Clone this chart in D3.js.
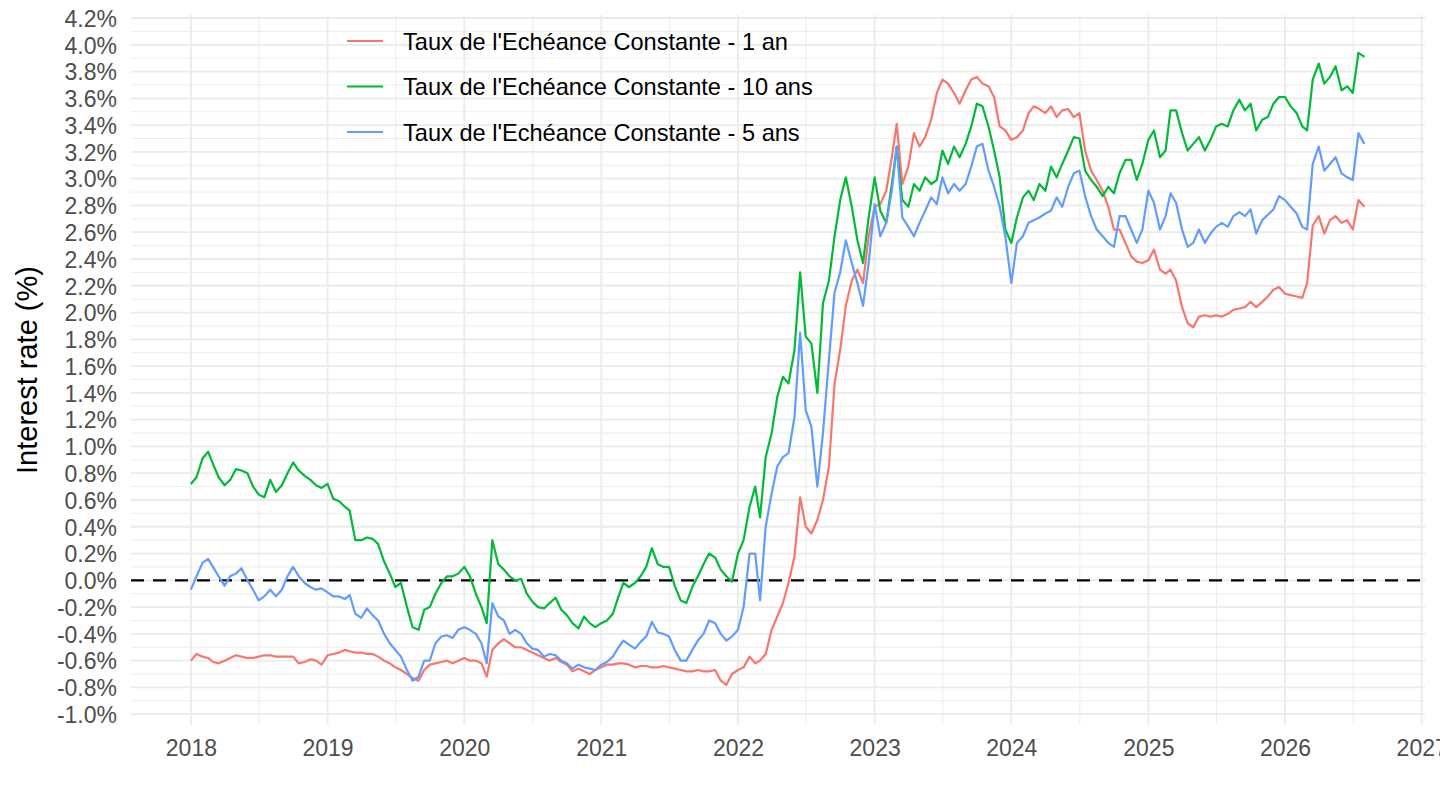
<!DOCTYPE html>
<html>
<head>
<meta charset="utf-8">
<script src="https://cdn.jsdelivr.net/npm/d3@7"></script>
<style>
  html, body { margin: 0; padding: 0; background: #fff; }
  svg { display: block; font-family: "Liberation Sans", Arial, sans-serif; }
</style>
</head>
<body>
<div id="graph"></div>
<script>

// half-monthly observations, 1st and 16th of each month, Jan 2018 -> Aug 2026
var startYear = 2018;
var nObs = 207;

var seriesNames = [
  "Taux de l'Echéance Constante - 1 an",
  "Taux de l'Echéance Constante - 10 ans",
  "Taux de l'Echéance Constante - 5 ans"
];
var seriesColors = ["#F8766D", "#00BA38", "#619CFF"];

var oneYear = [
  -0.60, -0.55, -0.57, -0.58, -0.61, -0.62, -0.60, -0.58, -0.56, -0.57, -0.58, -0.58, -0.57, -0.56, -0.56, -0.57, -0.57, -0.57, -0.57, -0.62, -0.61, -0.59, -0.60, -0.63,
  -0.56, -0.55, -0.54, -0.52, -0.53, -0.54, -0.54, -0.55, -0.55, -0.57, -0.60, -0.62, -0.65, -0.67, -0.70, -0.73, -0.75, -0.67, -0.63, -0.62, -0.61, -0.60, -0.62, -0.60,
  -0.58, -0.60, -0.60, -0.62, -0.72, -0.52, -0.47, -0.44, -0.47, -0.50, -0.50, -0.52, -0.54, -0.56, -0.58, -0.60, -0.58, -0.61, -0.63, -0.68, -0.66, -0.68, -0.70, -0.67,
  -0.65, -0.63, -0.63, -0.62, -0.62, -0.63, -0.65, -0.64, -0.64, -0.65, -0.65, -0.64, -0.65, -0.66, -0.67, -0.68, -0.68, -0.67, -0.68, -0.68, -0.67, -0.75, -0.78, -0.70,
  -0.67, -0.65, -0.57, -0.62, -0.60, -0.55, -0.37, -0.27, -0.17, -0.02, 0.18, 0.62, 0.40, 0.35, 0.45, 0.60, 0.85, 1.47, 1.72, 2.05, 2.24, 2.32, 2.22, 2.57,
  2.79, 2.81, 2.91, 3.16, 3.41, 2.96, 3.09, 3.34, 3.24, 3.31, 3.44, 3.64, 3.74, 3.71, 3.64, 3.56, 3.66, 3.74, 3.76, 3.71, 3.69, 3.61, 3.39, 3.36,
  3.29, 3.31, 3.36, 3.49, 3.54, 3.52, 3.49, 3.54, 3.46, 3.51, 3.52, 3.46, 3.49, 3.21, 3.06, 2.99, 2.91, 2.79, 2.62, 2.62, 2.52, 2.42, 2.38, 2.37,
  2.39, 2.47, 2.32, 2.29, 2.32, 2.24, 2.04, 1.92, 1.89, 1.97, 1.98, 1.97, 1.98, 1.97, 1.99, 2.02, 2.03, 2.04, 2.08, 2.04, 2.08, 2.12, 2.17, 2.19,
  2.14, 2.13, 2.12, 2.11, 2.22, 2.65, 2.72, 2.59, 2.69, 2.72, 2.67, 2.69, 2.62, 2.84, 2.79
];

var tenYear = [
  0.72, 0.77, 0.91, 0.96, 0.87, 0.77, 0.71, 0.75, 0.83, 0.82, 0.80, 0.70, 0.64, 0.62, 0.75, 0.66, 0.71, 0.80, 0.88, 0.82, 0.78, 0.75, 0.71, 0.69,
  0.72, 0.61, 0.59, 0.55, 0.52, 0.30, 0.30, 0.32, 0.31, 0.27, 0.14, 0.05, -0.05, -0.02, -0.20, -0.35, -0.37, -0.22, -0.20, -0.10, -0.02, 0.03, 0.03, 0.05,
  0.10, 0.03, -0.10, -0.20, -0.32, 0.30, 0.12, 0.08, 0.03, 0.00, 0.01, -0.10, -0.16, -0.20, -0.21, -0.17, -0.13, -0.22, -0.26, -0.32, -0.36, -0.27, -0.32, -0.35,
  -0.32, -0.30, -0.25, -0.12, -0.02, -0.05, -0.02, 0.03, 0.10, 0.24, 0.12, 0.10, 0.10, -0.04, -0.15, -0.17, -0.05, 0.03, 0.12, 0.20, 0.17, 0.08, 0.03, -0.01,
  0.20, 0.30, 0.55, 0.70, 0.47, 0.92, 1.10, 1.37, 1.52, 1.47, 1.72, 2.30, 1.82, 1.77, 1.40, 2.07, 2.24, 2.57, 2.84, 3.01, 2.79, 2.54, 2.37, 2.71,
  3.01, 2.76, 2.67, 2.96, 3.24, 2.84, 2.79, 2.96, 2.91, 3.01, 2.96, 2.99, 3.21, 3.11, 3.24, 3.16, 3.26, 3.39, 3.56, 3.54, 3.39, 3.21, 3.01, 2.62,
  2.52, 2.71, 2.86, 2.91, 2.84, 2.96, 2.91, 3.09, 3.01, 3.11, 3.21, 3.31, 3.30, 3.06, 2.99, 2.94, 2.87, 2.94, 2.89, 3.04, 3.14, 3.14, 2.99, 3.11,
  3.29, 3.36, 3.16, 3.21, 3.51, 3.51, 3.34, 3.21, 3.26, 3.31, 3.21, 3.29, 3.39, 3.41, 3.39, 3.51, 3.59, 3.51, 3.56, 3.36, 3.44, 3.46, 3.56, 3.61,
  3.61, 3.54, 3.49, 3.39, 3.36, 3.74, 3.86, 3.71, 3.76, 3.84, 3.66, 3.69, 3.64, 3.94, 3.91
];

var fiveYear = [
  -0.07, 0.03, 0.13, 0.16, 0.10, 0.03, -0.04, 0.03, 0.05, 0.09, 0.00, -0.07, -0.15, -0.12, -0.07, -0.12, -0.07, 0.03, 0.10, 0.03, -0.02, -0.05, -0.07, -0.06,
  -0.09, -0.12, -0.12, -0.14, -0.11, -0.25, -0.28, -0.21, -0.26, -0.30, -0.40, -0.47, -0.52, -0.57, -0.67, -0.75, -0.72, -0.60, -0.60, -0.47, -0.42, -0.41, -0.43, -0.37,
  -0.35, -0.37, -0.40, -0.47, -0.62, -0.17, -0.27, -0.30, -0.40, -0.37, -0.40, -0.47, -0.51, -0.52, -0.57, -0.55, -0.56, -0.60, -0.62, -0.66, -0.63, -0.65, -0.66, -0.67,
  -0.63, -0.61, -0.57, -0.50, -0.45, -0.48, -0.51, -0.46, -0.42, -0.31, -0.39, -0.40, -0.42, -0.52, -0.60, -0.60, -0.52, -0.45, -0.40, -0.30, -0.32, -0.40, -0.45, -0.42,
  -0.37, -0.20, 0.20, 0.20, -0.15, 0.40, 0.65, 0.85, 0.92, 0.95, 1.22, 1.85, 1.27, 1.15, 0.70, 1.10, 1.65, 2.15, 2.30, 2.54, 2.37, 2.22, 2.05, 2.37,
  2.81, 2.57, 2.67, 2.91, 3.24, 2.71, 2.64, 2.57, 2.67, 2.76, 2.86, 2.81, 3.01, 2.89, 2.96, 2.91, 2.96, 3.09, 3.24, 3.26, 3.06, 2.94, 2.79, 2.57,
  2.22, 2.52, 2.57, 2.67, 2.69, 2.71, 2.74, 2.76, 2.86, 2.79, 2.94, 3.04, 3.06, 2.87, 2.72, 2.62, 2.57, 2.52, 2.49, 2.72, 2.72, 2.62, 2.52, 2.62,
  2.91, 2.82, 2.62, 2.72, 2.89, 2.82, 2.62, 2.49, 2.52, 2.62, 2.52, 2.59, 2.64, 2.67, 2.64, 2.72, 2.75, 2.72, 2.77, 2.59, 2.69, 2.73, 2.77, 2.87,
  2.84, 2.79, 2.74, 2.64, 2.62, 3.11, 3.24, 3.06, 3.11, 3.16, 3.04, 3.01, 2.99, 3.34, 3.26
];

var yTicks = [-1.0, -0.8, -0.6, -0.4, -0.2, 0.0, 0.2, 0.4, 0.6, 0.8, 1.0, 1.2, 1.4, 1.6, 1.8, 2.0,
              2.2, 2.4, 2.6, 2.8, 3.0, 3.2, 3.4, 3.6, 3.8, 4.0, 4.2];
var xTicks = [2018, 2019, 2020, 2021, 2022, 2023, 2024, 2025, 2026, 2027];

var svgWidth = 1440;
var svgHeight = 810;

// panel box (ggplot minimal look)
var panel = { left: 131, right: 1425, top: 15, bottom: 725 };

var svg = d3.select("#graph")
  .append("svg")
  .attr("width", svgWidth)
  .attr("height", svgHeight);

// dates for each observation
var dates = [];
for (var i = 0; i < nObs; i++) {
  dates.push(new Date(Date.UTC(startYear, Math.floor(i / 2), i % 2 ? 16 : 1)));
}

var xScale = d3.scaleUtc()
  .domain([new Date(Date.UTC(2018, 0, 1)), new Date(Date.UTC(2027, 0, 1))])
  .range([190.9, 1421.7]);

var yScale = d3.scaleLinear()
  .domain([-1.0, 4.2])
  .range([714.2, 18.0]);

var gridGroup = svg.append("g");

// minor grid: half years and odd tenths
var xMinor = xTicks.slice(0, -1).map(y => new Date(Date.UTC(y, 6, 2)));
var yMinor = yTicks.slice(0, -1).map(v => v + 0.1);

gridGroup.selectAll(".hminor")
  .data(yMinor)
  .enter()
  .append("line")
  .attr("x1", panel.left)
  .attr("x2", panel.right)
  .attr("y1", d => yScale(d))
  .attr("y2", d => yScale(d))
  .attr("stroke", "#EBEBEB")
  .attr("stroke-width", 0.9);

gridGroup.selectAll(".vminor")
  .data(xMinor)
  .enter()
  .append("line")
  .attr("x1", d => xScale(d))
  .attr("x2", d => xScale(d))
  .attr("y1", panel.top)
  .attr("y2", panel.bottom)
  .attr("stroke", "#EBEBEB")
  .attr("stroke-width", 0.9);

gridGroup.selectAll(".hmajor")
  .data(yTicks)
  .enter()
  .append("line")
  .attr("x1", panel.left)
  .attr("x2", panel.right)
  .attr("y1", d => yScale(d))
  .attr("y2", d => yScale(d))
  .attr("stroke", "#EBEBEB")
  .attr("stroke-width", 1.8);

gridGroup.selectAll(".vmajor")
  .data(xTicks)
  .enter()
  .append("line")
  .attr("x1", d => xScale(new Date(Date.UTC(d, 0, 1))))
  .attr("x2", d => xScale(new Date(Date.UTC(d, 0, 1))))
  .attr("y1", panel.top)
  .attr("y2", panel.bottom)
  .attr("stroke", "#EBEBEB")
  .attr("stroke-width", 1.8);

// axes text
var yAxis = d3.axisLeft(yScale)
  .tickValues(yTicks)
  .tickSize(0)
  .tickPadding(0)
  .tickFormat(d => d.toFixed(1) + "%");

var yAxisGroup = svg.append("g")
  .attr("transform", "translate(117,0)")
  .call(yAxis);

var xAxis = d3.axisBottom(xScale)
  .tickValues(xTicks.map(y => new Date(Date.UTC(y, 0, 1))))
  .tickSize(0)
  .tickPadding(0)
  .tickFormat(d3.utcFormat("%Y"));

var xAxisGroup = svg.append("g")
  .attr("transform", "translate(0,739)")
  .call(xAxis);

[yAxisGroup, xAxisGroup].forEach(function(g) {
  g.select(".domain").remove();
  g.selectAll("text")
    .attr("fill", "#4D4D4D")
    .style("font-size", "23px")
    .style("font-family", "'Liberation Sans', Arial, sans-serif");
});
yAxisGroup.selectAll("text").attr("dy", "0.36em");
xAxisGroup.selectAll("text").attr("dy", "0.72em");

svg.append("text")
  .attr("transform", "translate(37,370) rotate(-90)")
  .attr("text-anchor", "middle")
  .style("font-size", "29px")
  .attr("fill", "#000")
  .text("Interest rate (%)");

// lines
svg.append("clipPath")
  .attr("id", "panelClip")
  .append("rect")
  .attr("x", panel.left)
  .attr("y", panel.top)
  .attr("width", panel.right - panel.left)
  .attr("height", panel.bottom - panel.top);

var chartGroup = svg.append("g").attr("clip-path", "url(#panelClip)");

chartGroup.append("line")
  .attr("x1", panel.left)
  .attr("x2", panel.right)
  .attr("y1", yScale(0))
  .attr("y2", yScale(0))
  .attr("stroke", "#000")
  .attr("stroke-width", 2.2)
  .attr("stroke-dasharray", "13,9");

var line = d3.line()
  .x((d, i) => xScale(dates[i]))
  .y(d => yScale(d));

[oneYear, tenYear, fiveYear].forEach(function(values, k) {
  chartGroup.append("path")
    .datum(values)
    .attr("fill", "none")
    .attr("stroke", seriesColors[k])
    .attr("stroke-width", 2.2)
    .attr("stroke-linejoin", "round")
    .attr("d", line);
});

// legend
var legendGroup = svg.append("g").attr("transform", "translate(347,41)");

seriesNames.forEach(function(name, k) {
  var row = legendGroup.append("g").attr("transform", `translate(0, ${k * 45.5})`);
  row.append("line")
    .attr("x1", 0)
    .attr("x2", 36)
    .attr("stroke", seriesColors[k])
    .attr("stroke-width", 2.2);
  row.append("text")
    .attr("x", 56)
    .attr("dy", "0.36em")
    .style("font-size", "23.6px")
    .attr("fill", "#000")
    .text(name);
});

</script>
</body>
</html>
